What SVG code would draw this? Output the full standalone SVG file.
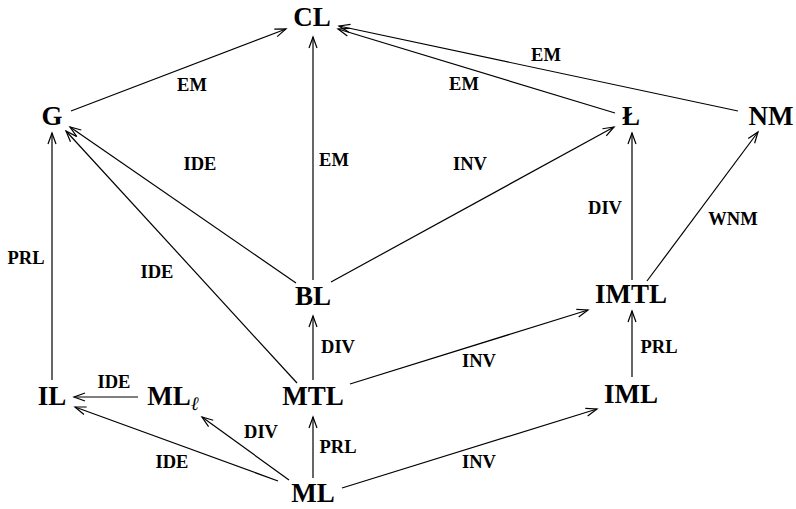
<svg xmlns="http://www.w3.org/2000/svg" width="796" height="509" viewBox="0 0 796 509">
<style>
.n{font-family:"Liberation Serif","Times New Roman",serif;font-weight:bold;font-size:27px;text-anchor:middle;fill:#000}
.l{font-family:"Liberation Serif","Times New Roman",serif;font-weight:bold;font-size:18.5px;text-anchor:middle;fill:#000}
.e{stroke:#000;stroke-width:1.2;fill:none;marker-end:url(#a)}
</style>
<defs>
<marker id="a" markerUnits="userSpaceOnUse" markerWidth="14" markerHeight="12" viewBox="-12 -6 14 12" refX="0" refY="0" orient="auto">
<path d="M-11,-4 L0,0 L-11,4" fill="none" stroke="#000" stroke-width="1.2"/>
</marker>
</defs>
<rect width="796" height="509" fill="#fff"/>
<g id="edges">
<line class="e" x1="71" y1="111" x2="286" y2="29"/>
<line class="e" x1="313" y1="280" x2="313" y2="37"/>
<line class="e" x1="615" y1="113" x2="338" y2="29"/>
<line class="e" x1="738" y1="111" x2="339" y2="26"/>
<line class="e" x1="52" y1="380" x2="52" y2="133"/>
<line class="e" x1="296" y1="283" x2="70" y2="127"/>
<line class="e" x1="297" y1="383" x2="66" y2="131"/>
<line class="e" x1="331" y1="282" x2="614" y2="127"/>
<line class="e" x1="632" y1="280" x2="632" y2="133"/>
<line class="e" x1="647" y1="281" x2="758" y2="132"/>
<line class="e" x1="313" y1="380" x2="313" y2="316"/>
<line class="e" x1="350" y1="384" x2="588" y2="310"/>
<line class="e" x1="138" y1="397" x2="74" y2="397"/>
<line class="e" x1="278" y1="481" x2="75" y2="407"/>
<line class="e" x1="289" y1="480" x2="202" y2="417"/>
<line class="e" x1="313" y1="478" x2="313" y2="417"/>
<line class="e" x1="342" y1="488" x2="597" y2="409"/>
<line class="e" x1="632" y1="377" x2="632" y2="311"/>
</g>
<g id="labels">
<text class="l" x="192" y="91">EM</text>
<text class="l" x="334" y="166">EM</text>
<text class="l" x="464" y="90">EM</text>
<text class="l" x="546" y="61">EM</text>
<text class="l" x="200" y="170">IDE</text>
<text class="l" x="157" y="278">IDE</text>
<text class="l" x="470" y="170">INV</text>
<text class="l" x="605" y="214">DIV</text>
<text class="l" x="733" y="225">WNM</text>
<text class="l" x="26" y="264">PRL</text>
<text class="l" x="338" y="353">DIV</text>
<text class="l" x="479" y="367">INV</text>
<text class="l" x="659" y="353">PRL</text>
<text class="l" x="114" y="388">IDE</text>
<text class="l" x="261" y="438">DIV</text>
<text class="l" x="338" y="453">PRL</text>
<text class="l" x="172" y="468">IDE</text>
<text class="l" x="479" y="468">INV</text>
</g>
<g id="CL"><text class="n" x="312" y="26">CL</text></g>
<g id="G"><text class="n" x="52" y="125">G</text></g>
<g id="L-stroke"><text class="n" x="631" y="125">Ł</text></g>
<g id="NM"><text class="n" x="771" y="125">NM</text></g>
<g id="BL"><text class="n" x="313" y="305">BL</text></g>
<g id="IMTL"><text class="n" x="631" y="303">IMTL</text></g>
<g id="IL"><text class="n" x="52" y="405">IL</text></g>
<g id="MLl"><text class="n" x="173" y="405">ML<tspan font-style="italic" font-weight="normal" font-size="19" dy="5">ℓ</tspan></text></g>
<g id="MTL"><text class="n" x="313" y="405">MTL</text></g>
<g id="IML"><text class="n" x="631" y="403">IML</text></g>
<g id="ML"><text class="n" x="313" y="502">ML</text></g>
</svg>
